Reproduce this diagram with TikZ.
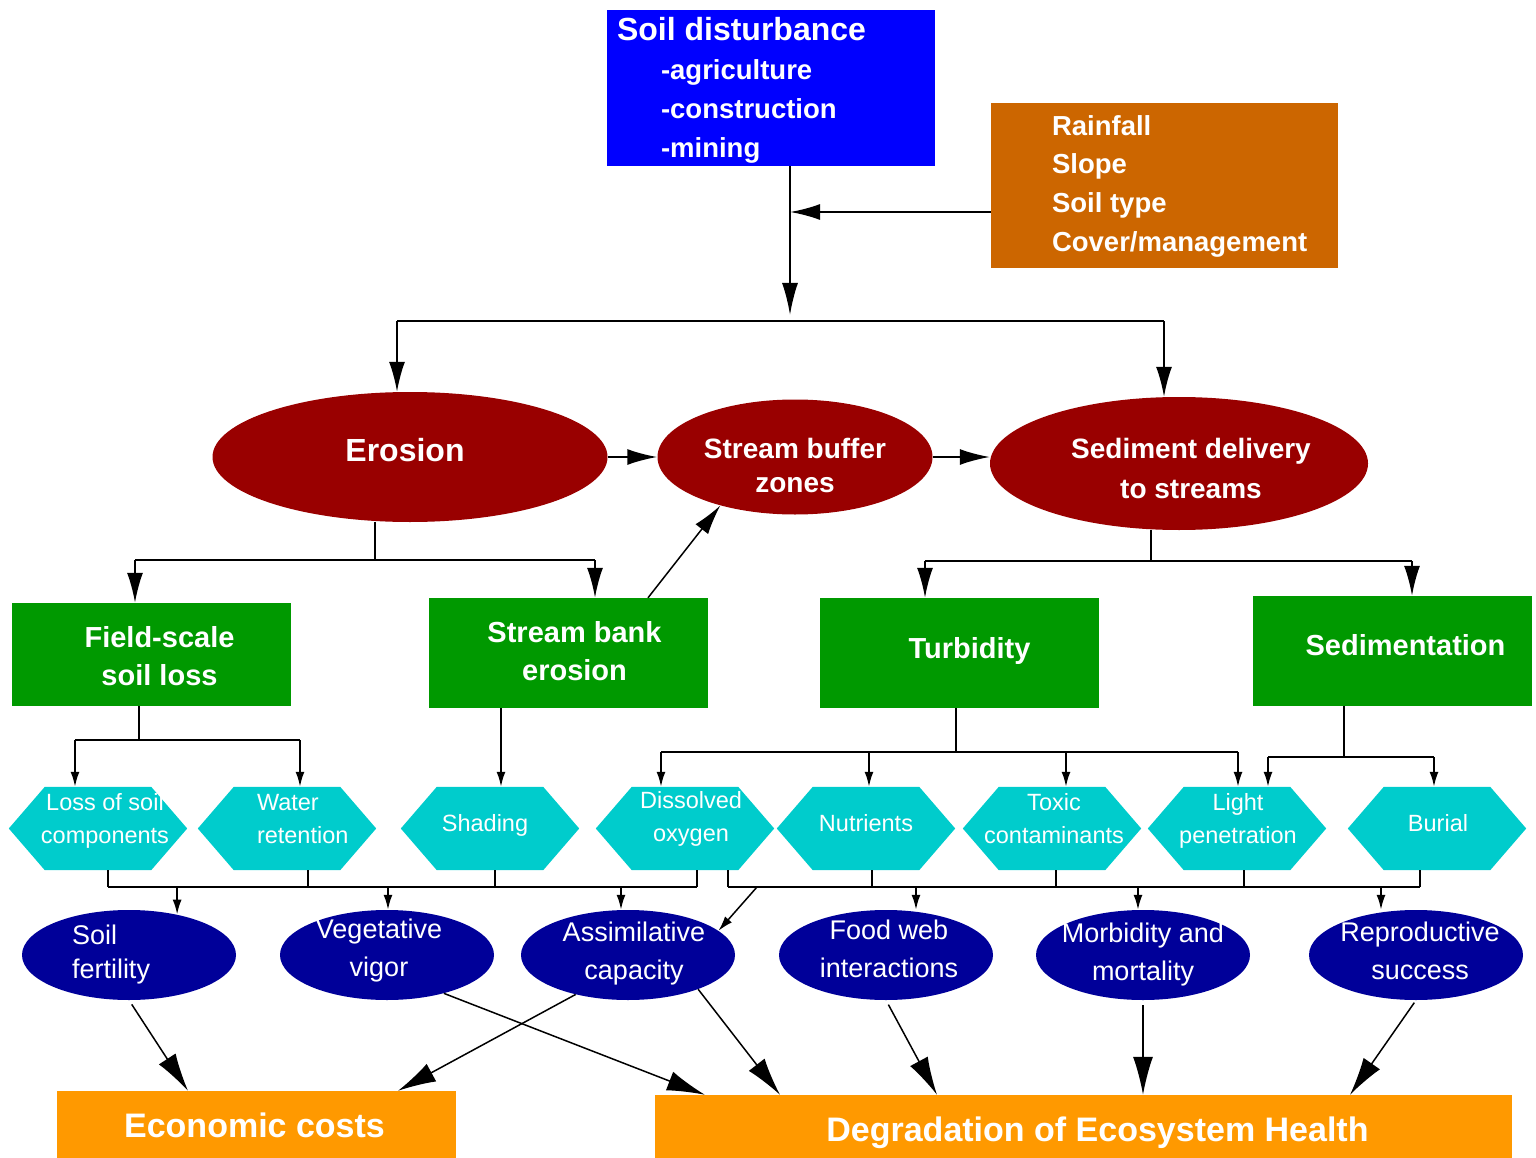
\documentclass[tikz,border=0pt]{standalone}
\usepackage{fontspec}
\setmainfont{Liberation Sans}
\usetikzlibrary{arrows.meta,shapes.geometric,calc,backgrounds}

\definecolor{sdblue}{HTML}{0000FF}
\definecolor{factbrown}{HTML}{CC6600}
\definecolor{procred}{HTML}{990000}
\definecolor{effgreen}{HTML}{009900}
\definecolor{hexcyan}{HTML}{00CCCC}
\definecolor{respnavy}{HTML}{000099}
\definecolor{outorange}{HTML}{FF9900}

\newcommand\setfs[2]{\fontsize{#1}{#2}\selectfont}
\newsavebox\labelbox
% centred text block, moved by (dx,dy) without changing the node size
\newcommand\tx[4][c]{%
  \sbox\labelbox{\begin{tabular}{@{}#1@{}}#4\end{tabular}}%
  \makebox[\wd\labelbox][l]{\hspace*{#2}\raisebox{#3}[\ht\labelbox][\dp\labelbox]{\usebox\labelbox}}}
% left-aligned text block starting at dx from the node centre
\newcommand\lx[3]{%
  \sbox\labelbox{\begin{tabular}{@{}l@{}}#3\end{tabular}}%
  \makebox[0pt][l]{\hspace*{#1}\raisebox{#2}[\ht\labelbox][\dp\labelbox]{\usebox\labelbox}}}

\tikzset{
  conn/.style={draw=black, line width=2pt},
  thin conn/.style={draw=black, line width=1.5pt},
  tipbig/.style={-{Latex[length=32pt,width=16pt]}},
  tipmid/.style={-{Latex[length=30pt,width=16pt]}},
  tipsmall/.style={-{Latex[length=15pt,width=9pt]}},
  tiplarge/.style={-{Latex[length=38pt,width=20pt]}},
  srcbox/.style={rectangle, inner sep=0pt, text=white},
  procell/.style={ellipse, fill=procred, inner sep=-15pt, text=white},
  effbox/.style={rectangle, fill=effgreen, minimum width=279pt, inner sep=0pt,
    text=white, font=\bfseries\setfs{29}{38}},
  hexcore/.style={rectangle, minimum width=106pt, minimum height=83pt,
    inner xsep=-30pt, inner ysep=0pt, text=white, font=\setfs{23.5}{33}},
  respell/.style={ellipse, fill=respnavy, minimum width=214pt, minimum height=90pt,
    inner sep=-15pt, text=white, font=\setfs{27}{38}},
  outbox/.style={rectangle, fill=outorange, inner sep=0pt, text=white,
    font=\bfseries\setfs{34}{40}},
}

\begin{document}
\begin{tikzpicture}[x=1pt,y=-1pt]
\useasboundingbox (0,0) rectangle (1536,1158);

% sources
\node[srcbox, fill=sdblue, minimum width=328pt, minimum height=152pt,
      font=\bfseries\setfs{27.5}{39}] (sd) at (771,88)
  {\lx{-154pt}{-3pt}{{\setfs{32}{39}Soil disturbance}\\
     \hspace*{44pt}-agriculture\\ \hspace*{44pt}-construction\\ \hspace*{44pt}-mining}};
\node[srcbox, fill=factbrown, minimum width=347pt, minimum height=165pt,
      font=\bfseries\setfs{27.5}{38.7}] (rf) at (1164.5,185.5)
  {\lx{-112.5pt}{0pt}{Rainfall\\Slope\\Soil type\\Cover/management}};

% processes
\node[procell, minimum width=395pt, minimum height=130pt, font=\bfseries\setfs{32}{38}]
  (ero) at (410,457) {\tx{-5pt}{3pt}{Erosion}};
\node[procell, minimum width=275pt, minimum height=115pt, font=\bfseries\setfs{28}{34}]
  (buf) at (795,457) {\tx{0pt}{-12pt}{Stream buffer\\zones}};
\node[procell, minimum width=378pt, minimum height=133pt, font=\bfseries\setfs{28}{40}]
  (sed) at (1179,463.5) {\tx{12pt}{-7pt}{Sediment delivery\\to streams}};

% effects
\node[effbox, minimum height=103pt] (fs) at (151.5,654.5) {\tx{8pt}{-4pt}{Field-scale\\soil loss}};
\node[effbox, minimum height=110pt] (sb) at (568.5,653) {\tx{6pt}{-1pt}{Stream bank\\erosion}};
\node[effbox, minimum height=110pt] (tu) at (959.5,653) {\tx{10pt}{2pt}{Turbidity}};
\node[effbox, minimum height=110pt] (se) at (1392.5,651) {\tx{13pt}{3pt}{Sedimentation}};

% stressors (hexagon cores)
\node[hexcore] (h1) at (98,828.5)   {\tx{7pt}{8pt}{Loss of soil\\components}};
\node[hexcore] (h2) at (287,828.5)  {\lx{-30pt}{8pt}{Water\\retention}};
\node[hexcore] (h3) at (490,828.5)  {\tx{-5pt}{4pt}{Shading}};
\node[hexcore] (h4) at (685,828.5)  {\tx{6pt}{10pt}{Dissolved\\oxygen}};
\node[hexcore] (h5) at (866,828.5)  {\tx{0pt}{4pt}{Nutrients}};
\node[hexcore] (h6) at (1052,828.5) {\tx{2pt}{8pt}{Toxic\\contaminants}};
\node[hexcore] (h7) at (1237,828.5) {\tx{1pt}{8pt}{Light\\penetration}};
\node[hexcore] (h8) at (1437,828.5) {\tx{1pt}{4pt}{Burial}};

% responses
\node[respell, font=\setfs{27}{34}] (sf) at (129,955) {\lx{-57pt}{0pt}{Soil\\fertility}};
\node[respell] (vv) at (387,955)  {\tx{-8pt}{5pt}{Vegetative\\vigor}};
\node[respell] (ac) at (628,955)  {\tx{6pt}{2pt}{Assimilative\\capacity}};
\node[respell] (fw) at (886,955)  {\tx{3pt}{4pt}{Food web\\interactions}};
\node[respell] (mm) at (1143,955) {\tx{0pt}{1pt}{Morbidity and\\mortality}};
\node[respell] (rs) at (1416,955) {\tx{4pt}{2pt}{Reproductive\\success}};

% outcomes
\node[outbox, minimum width=399pt, minimum height=69pt] (ec) at (256.5,1125.5)
  {\tx{-2pt}{-4pt}{Economic costs}};
\node[outbox, minimum width=857pt, minimum height=65pt] (dg) at (1083.5,1127.5)
  {\tx{14pt}{-6pt}{Degradation of Ecosystem Health}};

% hexagon fills behind the stressor labels
\begin{scope}[on background layer]
  \foreach \hx in {h1,h2,h3,h4,h5,h6,h7,h8}
    \fill[hexcyan] (\hx.north west) -- (\hx.north east) -- ($(\hx.east)+(36,0)$)
      -- (\hx.south east) -- (\hx.south west) -- ($(\hx.west)+(-36,0)$) -- cycle;
\end{scope}

% disturbance and site factors feed the upper bus
\coordinate (trunk) at (790,321);
\coordinate (mixin) at (790,212);
\draw[conn,tipbig] (sd.south -| trunk) -- ($(trunk)+(0,-6)$);
\draw[conn,tipmid] (rf.west |- mixin) -- (mixin);
\coordinate (busL) at (397,321);
\coordinate (busR) at (1164,321);
\draw[conn] (busL) -- (busR);
\draw[conn,tipmid] (busL) -- (busL |- ero.north);
\draw[conn,tipmid] (busR) -- (busR |- sed.north);

% process chain
\draw[conn,tipmid] (ero.east) -- (buf.west);
\draw[conn,tipmid] (buf.east) -- (buf.east -| sed.west);

% erosion branches
\coordinate (ebus) at (375,560);
\coordinate (ebL) at (135,560);
\coordinate (ebR) at (595,560);
\draw[conn] (ero.south -| ebus) -- (ebus);
\draw[conn] (ebL) -- (ebR);
\draw[conn,tipmid] (ebL) -- (ebL |- fs.north);
\draw[conn,tipmid] (ebR) -- (ebR |- sb.north);
\draw[thin conn,tipmid] ($(sb.north)+(79.5,0)$) -- (buf.213.7);

% sediment delivery branches
\coordinate (sbus) at (1151,561);
\coordinate (sbL) at (925,561);
\coordinate (sbR) at (1412,561);
\draw[conn] (sed.south -| sbus) -- (sbus);
\draw[conn] (sbL) -- (sbR);
\draw[conn,tipmid] (sbL) -- (sbL |- tu.north);
\draw[conn,tipmid] (sbR) -- (sbR |- se.north);

% field-scale soil loss
\coordinate (fbus) at (139,740);
\coordinate (fbL) at (75,740);
\coordinate (fbR) at (300,740);
\draw[conn] (fs.south -| fbus) -- (fbus);
\draw[conn] (fbL) -- (fbR);
\draw[conn,tipsmall] (fbL) -- (fbL |- h1.north);
\draw[conn,tipsmall] (fbR) -- (fbR |- h2.north);

% stream bank erosion
\draw[conn,tipsmall] ($(sb.south)+(-67.5,0)$) coordinate (shtop) -- (shtop |- h3.north);

% turbidity
\coordinate (tbus) at (956,752);
\coordinate (tbL) at (661,752);
\coordinate (tbN) at (869,752);
\coordinate (tbT) at (1066,752);
\coordinate (tbR) at (1238,752);
\draw[conn] (tu.south -| tbus) -- (tbus);
\draw[conn] (tbL) -- (tbR);
\foreach \c/\hx in {tbL/h4, tbN/h5, tbT/h6, tbR/h7}
  \draw[conn,tipsmall] (\c) -- (\c |- \hx.north);

% sedimentation
\coordinate (dbus) at (1344,757);
\coordinate (dbL) at (1268,757);
\coordinate (dbR) at (1434,757);
\draw[conn] (se.south -| dbus) -- (dbus);
\draw[conn] (dbL) -- (dbR);
\draw[conn,tipsmall] (dbL) -- (dbL |- h7.north);
\draw[conn,tipsmall] (dbR) -- (dbR |- h8.north);

% lower left bus: stressors to plant and water responses
\coordinate (r1) at (108,887);
\coordinate (r2) at (308,887);
\coordinate (r3) at (495,887);
\coordinate (r4) at (697,887);
\foreach \c/\hx in {r1/h1, r2/h2, r3/h3, r4/h4}
  \draw[conn] (\hx.south -| \c) -- (\c);
\draw[conn] (r1) -- (r4);
\coordinate (a1) at (176,887);
\coordinate (a2) at (388,887);
\coordinate (a3) at (621,887);
\draw[conn,tipsmall] (sf.40.7 |- a1) -- (sf.40.7);
\draw[conn,tipsmall] (a2) -- (a2 |- vv.north);
\draw[conn,tipsmall] (a3) -- (a3 |- ac.north);

% lower right bus: stressors to biological responses
\coordinate (r5) at (728,887);
\coordinate (r6) at (872,887);
\coordinate (r7) at (1056,887);
\coordinate (r8) at (1244,887);
\coordinate (r9) at (1420,887);
\foreach \c/\hx in {r5/h4, r6/h5, r7/h6, r8/h7, r9/h8}
  \draw[conn] (\hx.south -| \c) -- (\c);
\draw[conn] (r5) -- (r9);
\coordinate (a4) at (916,887);
\coordinate (a5) at (1138,887);
\coordinate (a6) at (1381,887);
\coordinate (a7) at (757,887);
\draw[conn,tipsmall] (a4) -- (a4 |- fw.north);
\draw[conn,tipsmall] (a5) -- (a5 |- mm.north);
\draw[conn,tipsmall] (a6) -- (a6 |- rs.north);
\draw[thin conn,tipsmall] (a7) -- (ac.15.5);

% responses to outcomes
\draw[thin conn,tiplarge,shorten <=5pt] (sf.south) -- ($(ec.north)+(-68.5,0)$);
\draw[thin conn,tiplarge] (ac.217.7) -- ($(ec.north)+(141.5,0)$);
\draw[thin conn,tiplarge] (vv.326.8) -- ($(dg.north)+(-378.5,0)$);
\draw[thin conn,tiplarge] (ac.334.7) -- ($(dg.north)+(-303.5,0)$);
\draw[thin conn,tiplarge,shorten <=5pt] (fw.south) -- ($(dg.north)+(-146.5,0)$);
\draw[thin conn,tiplarge,shorten <=5pt] (mm.south) -- (dg.north -| mm.south);
\draw[thin conn,tiplarge,shorten <=3pt] (rs.south) -- ($(dg.north)+(266.5,0)$);
\end{tikzpicture}
\end{document}
